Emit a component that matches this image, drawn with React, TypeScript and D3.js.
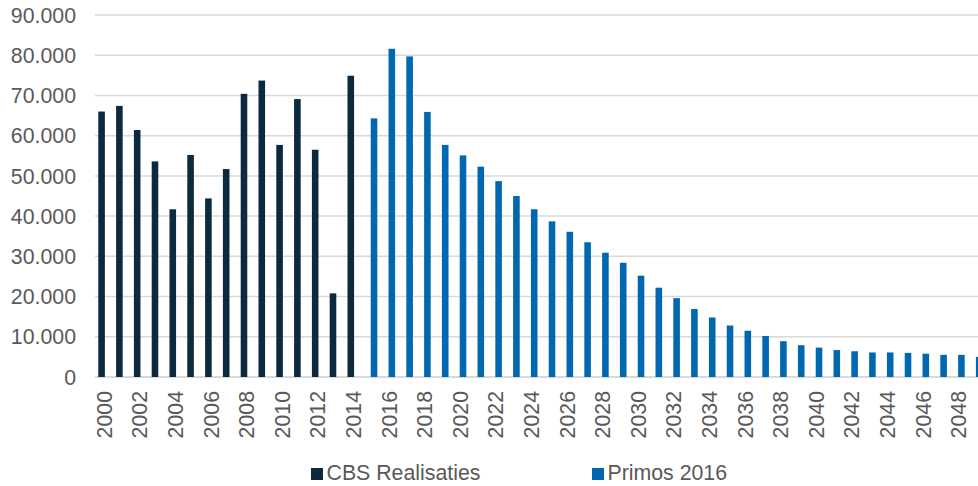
import React from "react";
import * as d3 from "d3";

// Woningbouw per jaar: CBS realisaties (2000-2014) en Primos-prognose 2016 (2015-2049)
const cbsYears: number[] = [2000, 2001, 2002, 2003, 2004, 2005, 2006, 2007, 2008, 2009, 2010, 2011, 2012, 2013, 2014];
const cbsValues: number[] = [66000, 67400, 61400, 53600, 41700, 55200, 44400, 51700, 70400, 73700, 57700, 69100, 56500, 20800, 74900];

const primosYears: number[] = [
  2015, 2016, 2017, 2018, 2019, 2020, 2021, 2022, 2023, 2024, 2025, 2026, 2027, 2028, 2029, 2030, 2031, 2032,
  2033, 2034, 2035, 2036, 2037, 2038, 2039, 2040, 2041, 2042, 2043, 2044, 2045, 2046, 2047, 2048, 2049,
];
const primosValues: number[] = [
  64300, 81600, 79700, 65900, 57700, 55100, 52300, 48700, 45000, 41700, 38700, 36100, 33500, 30900, 28400, 25200, 22200, 19600,
  16900, 14800, 12800, 11500, 10200, 8900, 7900, 7300, 6700, 6400, 6100, 6100, 6000, 5800, 5500, 5500, 5000,
];

const yTicks: number[] = [0, 10000, 20000, 30000, 40000, 50000, 60000, 70000, 80000, 90000];
const seriesNames: string[] = ["CBS Realisaties", "Primos 2016"];
const seriesColors: string[] = ["#0c2a3e", "#0068b1"];

const W = 978;
const H = 486;
const FONT = "'Liberation Sans', Arial, sans-serif";
const TEXT = "#595959";
const FS = 21.3;

export default function App() {
  const allYears = d3.range(2000, 2050).map(String);
  const x = d3.scaleBand<string>().domain(allYears).range([95, 985]).paddingInner(0).paddingOuter(0);
  const y = d3.scaleLinear().domain([0, 90000]).range([377, 15]);
  const bw = x.bandwidth();
  const barW = bw * 0.37;
  // series slots within a category (slightly overlapping, as in a clustered column chart)
  const slot = [bw * 0.185, bw * 0.49];
  const fmt = (v: number) => d3.format(",")(v).replace(/,/g, ".");

  const series = [
    { years: cbsYears, values: cbsValues },
    { years: primosYears, values: primosValues },
  ];

  return (
    <svg width={W} height={H} style={{ position: "absolute", left: 0, top: 0 }} fontFamily={FONT}>
      <rect width={W} height={H} fill="#ffffff" />
      {yTicks.map((t) => (
        <line key={t} x1={95} x2={W} y1={y(t)} y2={y(t)} stroke="#d9d9d9" strokeWidth={t === 0 ? 2 : 1.5} />
      ))}
      {yTicks.map((t) => (
        <text key={"l" + t} x={76} y={y(t)} dy="0.36em" textAnchor="end" fontSize={FS} fill={TEXT}>
          {fmt(t)}
        </text>
      ))}
      {series.map((s, si) =>
        s.years.map((yr, i) => (
          <rect
            key={si + "-" + yr}
            x={(x(String(yr)) as number) + slot[si]}
            y={y(s.values[i])}
            width={barW}
            height={y(0) - y(s.values[i])}
            fill={seriesColors[si]}
          />
        ))
      )}
      {allYears
        .filter((_, i) => i % 2 === 0)
        .map((yr) => {
          const cx = (x(yr) as number) + slot[0] + barW / 2 + 2.5;
          return (
            <text
              key={"x" + yr}
              transform={`translate(${cx},391) rotate(-90)`}
              textAnchor="end"
              dy="0.36em"
              fontSize={FS}
              fill={TEXT}
            >
              {yr}
            </text>
          );
        })}
      {seriesNames.map((n, i) => {
        const lx = i === 0 ? 311 : 592;
        return (
          <g key={n}>
            <rect x={lx} y={468} width={12} height={12} fill={seriesColors[i]} />
            <text x={lx + 15.5} y={480} fontSize={FS} fill={TEXT}>
              {n}
            </text>
          </g>
        );
      })}
    </svg>
  );
}
